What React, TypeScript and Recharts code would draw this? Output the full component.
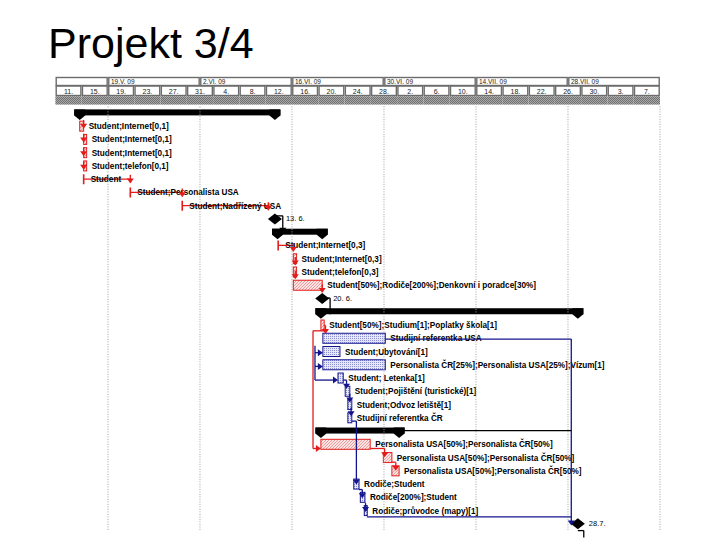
import React from 'react';
import { ComposedChart, Bar, XAxis, YAxis, ReferenceLine } from 'recharts';

// rows of the Gantt (top to bottom)
const rowLabels = [
  '', 'Student;Internet[0,1]', 'Student;Internet[0,1]', 'Student;Internet[0,1]', 'Student;telefon[0,1]',
  'Student', 'Student;Personalista USA', 'Student;Nadřízený USA', '13. 6.',
  '', 'Student;Internet[0,3]', 'Student;Internet[0,3]', 'Student;telefon[0,3]',
  'Student[50%];Rodiče[200%];Denkovní i poradce[30%]', '20. 6.',
  '', 'Student[50%];Studium[1];Poplatky škola[1]', 'Studijní referentka USA', 'Student;Ubytování[1]',
  'Personalista ČR[25%];Personalista USA[25%];Vízum[1]', 'Student; Letenka[1]',
  'Student;Pojištění (turistické)[1]', 'Student;Odvoz letiště[1]', 'Studijní referentka ČR',
  '', 'Personalista USA[50%];Personalista ČR[50%]', 'Personalista USA[50%];Personalista ČR[50%]',
  'Personalista USA[50%];Personalista ČR[50%]', 'Rodiče;Student', 'Rodiče[200%];Student',
  'Rodiče;průvodce (mapy)[1]', '28.7.',
];
// S summary, T task, L thin task, M milestone
const rowKinds = [
  'S', 'T', 'T', 'T', 'T', 'L', 'L', 'L', 'M',
  'S', 'L', 'T', 'T', 'T', 'M',
  'S', 'T', 'T', 'T', 'T', 'T', 'T', 'T', 'T',
  'S', 'T', 'T', 'T', 'T', 'T', 'T', 'M',
];
const rowCritical = [
  true, true, true, true, true, true, true, true, true,
  true, true, true, true, true, true,
  true, true, false, false, false, false, false, false, false,
  true, true, true, true, false, false, false, true,
];
// days from 11. 5. 2009
const rowStart = [
  3.7, 3.7, 4.3, 4.3, 4.3, 4.3, 11.4, 19.3, 33.4,
  33.8, 33.9, 36.2, 36.2, 36.2, 40.6,
  40.4, 40.4, 40.7, 40.7, 40.7, 43.0, 44.1, 44.5, 44.5,
  40.4, 40.4, 49.9, 51.2, 45.4, 46.4, 47.0, 79.5,
];
const rowEnd = [
  33.4, 4.3, 4.7, 4.7, 4.7, 11.4, 19.3, 32.4, 33.4,
  40.6, 36.2, 36.7, 36.7, 40.6, 40.6,
  79.5, 40.9, 50.2, 43.3, 50.2, 43.8, 44.8, 45.1, 45.1,
  52.3, 47.9, 51.2, 52.3, 46.2, 47.1, 47.4, 79.5,
];

const minorTicks = [0, 4, 8, 12, 16, 20, 24, 28, 32, 36, 40, 44, 48, 52, 56, 60, 64, 68, 72, 76, 80, 84, 88];
const minorLabels = ['11.', '15.', '19.', '23.', '27.', '31.', '4.', '8.', '12.', '16.', '20.', '24.', '28.', '2.', '6.', '10.', '14.', '18.', '22.', '26.', '30.', '3.', '7.'];
const majorTicks = [0, 8, 22, 36, 50, 64, 78];
const majorLabels = ['', '19.V. 09', '2.VI. 09', '16.VI. 09', '30.VI. 09', '14.VII. 09', '28.VII. 09'];
const gridDays = [8, 22, 36, 50, 64, 78, 92];

// dependency lines: points as [day, row]
const links: { c: 'r' | 'b' | 'k'; pts: number[][]; arrow: 'down' | 'right' | 'none' }[] = [
  { c: 'r', pts: [[4.3, 1], [4.3, 2]], arrow: 'down' },
  { c: 'r', pts: [[4.3, 2], [4.3, 3]], arrow: 'down' },
  { c: 'r', pts: [[4.3, 3], [4.3, 4]], arrow: 'down' },
  { c: 'r', pts: [[4.3, 4], [4.3, 5]], arrow: 'down' },
  { c: 'r', pts: [[11.4, 5], [11.4, 6]], arrow: 'down' },
  { c: 'r', pts: [[19.3, 6], [19.3, 7]], arrow: 'down' },
  { c: 'r', pts: [[32.4, 7], [32.4, 8]], arrow: 'down' },
  { c: 'k', pts: [[33.4, 8], [34.6, 8], [34.6, 9.6]], arrow: 'down' },
  { c: 'r', pts: [[36.2, 10], [36.2, 11]], arrow: 'down' },
  { c: 'r', pts: [[36.5, 11], [36.5, 12]], arrow: 'down' },
  { c: 'r', pts: [[36.5, 12], [36.5, 13]], arrow: 'down' },
  { c: 'r', pts: [[40.6, 13], [40.6, 14]], arrow: 'down' },
  { c: 'k', pts: [[40.6, 14], [41.8, 14], [41.8, 15.6]], arrow: 'down' },
  { c: 'r', pts: [[40.9, 16], [41.1, 16], [41.1, 17]], arrow: 'down' },
  { c: 'r', pts: [[41.1, 16.4], [39.2, 16.4], [39.2, 25], [40.4, 25]], arrow: 'right' },
  { c: 'b', pts: [[50.2, 17], [78.5, 17], [78.5, 31]], arrow: 'down' },
  { c: 'b', pts: [[39.5, 17.5], [39.5, 20], [43.0, 20]], arrow: 'right' },
  { c: 'b', pts: [[39.5, 18], [40.7, 18]], arrow: 'right' },
  { c: 'b', pts: [[39.5, 19], [40.7, 19]], arrow: 'right' },
  { c: 'b', pts: [[43.8, 20], [44.3, 20], [44.3, 21]], arrow: 'down' },
  { c: 'b', pts: [[44.8, 21], [44.8, 22]], arrow: 'down' },
  { c: 'b', pts: [[45.0, 22], [45.0, 23]], arrow: 'down' },
  { c: 'b', pts: [[45.1, 23], [45.8, 23], [45.8, 28]], arrow: 'down' },
  { c: 'b', pts: [[46.2, 28], [46.7, 28], [46.7, 29]], arrow: 'down' },
  { c: 'b', pts: [[47.1, 29], [47.2, 29], [47.2, 30]], arrow: 'down' },
  { c: 'b', pts: [[47.4, 30], [78.5, 30]], arrow: 'none' },
  { c: 'r', pts: [[47.9, 25], [50.1, 25], [50.1, 26]], arrow: 'down' },
  { c: 'r', pts: [[51.2, 26], [51.8, 26], [51.8, 27]], arrow: 'down' },
  { c: 'k', pts: [[52.3, 23.7], [78.5, 23.7]], arrow: 'none' },
  { c: 'k', pts: [[79.5, 31], [80.4, 31], [80.4, 31.5]], arrow: 'none' },
];

const rows = rowLabels.map((label, i) => ({
  id: 'r' + i,
  label,
  kind: rowKinds[i],
  critical: rowCritical[i],
  range: [rowStart[i], rowEnd[i]],
}));

const W = 704;
const H = 532;
const M = { top: 68.4, right: 52, bottom: 9.4, left: 47.4 };
const DAYS = 92;
const PPD = (W - M.left - M.right) / DAYS;

const RED = '#e31b1b';
const BLUE = '#14148c';
const FONT = '"Liberation Sans", Arial, sans-serif';
const lineColor = { r: RED, b: BLUE, k: '#000' };

const MinorTick = (p: any) => {
  const v = p.payload.value;
  const w = 4 * PPD;
  return (
    <g>
      <rect x={p.x + 0.8} y={78} width={w - 1.6} height={9.5} fill="#fff" stroke="#6c6c6c" strokeWidth={1.4} />
      <text x={p.x + w / 2} y={85.6} textAnchor="middle" fontSize={7} fontFamily={FONT} fill="#222">
        {minorLabels[minorTicks.indexOf(v)]}
      </text>
      <rect x={p.x} y={88.2} width={w} height={8.4} fill="url(#grayChk)" />
    </g>
  );
};

const MajorTick = (p: any) => {
  const v = p.payload.value;
  const i = majorTicks.indexOf(v);
  const next = i < majorTicks.length - 1 ? majorTicks[i + 1] : DAYS;
  const w = (next - v) * PPD;
  return (
    <g>
      <rect x={p.x + 0.8} y={69.5} width={w - 1.6} height={8} fill="#fff" stroke="#6c6c6c" strokeWidth={1.4} />
      <text x={p.x + 3} y={76} fontSize={6.5} fontFamily={FONT} fill="#222">
        {majorLabels[i]}
      </text>
    </g>
  );
};

const GanttShape = (p: any) => {
  const { x, y, width, height, payload } = p;
  const cy = y + height / 2;
  const kind = payload.kind;
  const col = payload.critical ? RED : BLUE;
  if (kind === 'S') {
    const x2 = x + width;
    const cap = (c: number) => `${c - 5.5},${cy - 3.5} ${c + 5.5},${cy - 3.5} ${c + 5.5},${cy + 2.5} ${c},${cy + 7} ${c - 5.5},${cy + 2.5}`;
    return (
      <g>
        <rect x={x - 5.5} y={cy - 3.5} width={width + 11} height={6} fill="#000" />
        <polygon points={cap(x)} fill="#000" />
        <polygon points={cap(x2)} fill="#000" />
      </g>
    );
  }
  if (kind === 'M') {
    return (
      <g>
        <polygon points={`${x},${cy - 5.5} ${x + 7},${cy} ${x},${cy + 5.5} ${x - 7},${cy}`} fill="#000" />
        <text x={x + 11} y={cy + 2.5} fontSize={7.5} fontFamily={FONT} fill="#000">{payload.label}</text>
      </g>
    );
  }
  if (kind === 'L') {
    return (
      <g>
        <line x1={x} y1={cy} x2={x + width} y2={cy} stroke={col} strokeWidth={1.2} />
        <line x1={x} y1={cy - 5} x2={x} y2={cy + 5} stroke={col} strokeWidth={1.6} />
        <text x={x + 7} y={cy + 3} fontSize={8.2} fontWeight="bold" fontFamily={FONT} fill="#000">{payload.label}</text>
      </g>
    );
  }
  const w = Math.max(width, 3);
  return (
    <g>
      <rect x={x} y={cy - 5} width={w} height={10} fill={payload.critical ? 'url(#hatchRed)' : 'url(#hatchBlue)'} stroke={col} strokeWidth={1} />
      <text x={x + w + 5} y={cy + 3} fontSize={8.2} fontWeight="bold" fontFamily={FONT} fill="#000">{payload.label}</text>
    </g>
  );
};

const LinkSeg = (p: any) => {
  const { x1, y1, x2, y2, color, arrow } = p;
  if (arrow === 'down') {
    const ey = y2 - 5;
    return (
      <g>
        <line x1={x1} y1={y1} x2={x2} y2={ey - 3} stroke={color} strokeWidth={1.3} />
        <polygon points={`${x2 - 3.5},${ey - 5} ${x2 + 3.5},${ey - 5} ${x2},${ey}`} fill={color} />
      </g>
    );
  }
  if (arrow === 'right') {
    return (
      <g>
        <line x1={x1} y1={y1} x2={x2 - 3} y2={y2} stroke={color} strokeWidth={1.3} />
        <polygon points={`${x2 - 5},${y2 - 3.5} ${x2 - 5},${y2 + 3.5} ${x2},${y2}`} fill={color} />
      </g>
    );
  }
  return <line x1={x1} y1={y1} x2={x2} y2={y2} stroke={color} strokeWidth={1.3} />;
};

export default function App() {
  const segs: React.ReactElement[] = [];
  links.forEach((l, li) => {
    for (let k = 0; k < l.pts.length - 1; k++) {
      const last = k === l.pts.length - 2;
      const color = lineColor[l.c];
      const arrow = last ? l.arrow : 'none';
      segs.push(
        <ReferenceLine
          key={`l${li}-${k}`}
          xAxisId="minor"
          yAxisId="num"
          segment={[{ x: l.pts[k][0], y: l.pts[k][1] }, { x: l.pts[k + 1][0], y: l.pts[k + 1][1] }]}
          ifOverflow="visible"
          shape={(sp: any) => <LinkSeg {...sp} color={color} arrow={arrow} />}
        />
      );
    }
  });

  return (
    <div style={{ position: 'relative', width: W, height: H }}>
      <div
        style={{
          position: 'absolute', left: 40, top: 13.6, fontFamily: FONT, fontSize: 43,
          lineHeight: '43px', color: '#000', whiteSpace: 'nowrap',
        }}
      >
        Projekt 3/4
      </div>
      <ComposedChart width={W} height={H} data={rows} layout="vertical" margin={M} barCategoryGap={0}>
        <defs>
          <pattern id="hatchRed" width="3" height="3" patternUnits="userSpaceOnUse">
            <rect width="3" height="3" fill="#fbe3e3" />
            <path d="M0,3 L3,0" stroke="#ea8a8a" strokeWidth="0.8" />
          </pattern>
          <pattern id="hatchBlue" width="2" height="2" patternUnits="userSpaceOnUse">
            <rect width="2" height="2" fill="#e6e8fa" />
            <rect width="1" height="1" fill="#8c90d0" />
          </pattern>
          <pattern id="grayChk" width="2" height="2" patternUnits="userSpaceOnUse">
            <rect width="2" height="2" fill="#a8a8a8" />
            <rect width="1" height="1" fill="#707070" />
            <rect x="1" y="1" width="1" height="1" fill="#707070" />
          </pattern>
        </defs>
        <XAxis
          xAxisId="minor"
          type="number"
          orientation="top"
          domain={[0, DAYS]}
          allowDataOverflow
          ticks={minorTicks}
          interval={0}
          height={20}
          axisLine={false}
          tickLine={false}
          tick={(p: any) => <MinorTick {...p} />}
        />
        <XAxis
          xAxisId="major"
          type="number"
          orientation="top"
          domain={[0, DAYS]}
          allowDataOverflow
          ticks={majorTicks}
          interval={0}
          height={10}
          axisLine={false}
          tickLine={false}
          tick={(p: any) => <MajorTick {...p} />}
        />
        <YAxis yAxisId="cat" type="category" dataKey="id" hide />
        <YAxis yAxisId="num" type="number" domain={[-0.5, 31.5]} allowDataOverflow hide />
        {gridDays.map((d) => (
          <ReferenceLine key={'g' + d} xAxisId="minor" yAxisId="cat" x={d} stroke="#a0a0a0" strokeDasharray="1 1.5" ifOverflow="visible" />
        ))}
        {segs}
        <Bar
          xAxisId="minor"
          yAxisId="cat"
          dataKey="range"
          isAnimationActive={false}
          shape={(p: any) => <GanttShape {...p} />}
        />
      </ComposedChart>
    </div>
  );
}
